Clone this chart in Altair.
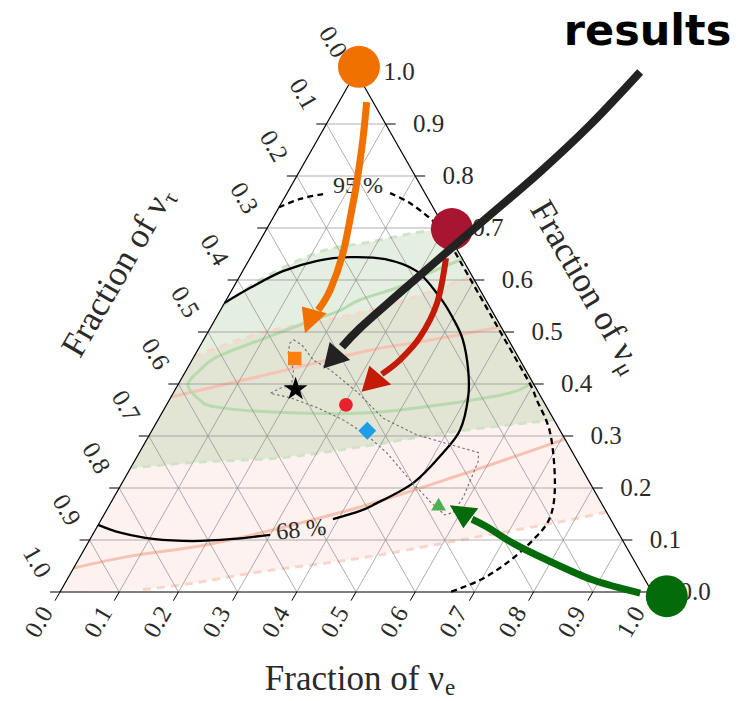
import altair as alt
import pandas as pd

# Plot area in px: the triangle's base spans W, its height spans H.
W, H = 592, 520

# ---------------------------------------------------------------- axes
TICK_VALUES = [0.0, 0.1, 0.2, 0.3, 0.4, 0.5, 0.6, 0.7, 0.8, 0.9, 1.0]
TICK_TEXT = ["0.0", "0.1", "0.2", "0.3", "0.4", "0.5", "0.6", "0.7", "0.8", "0.9", "1.0"]

# ------------------------------------------- flavour ratios at Earth
# every point is (fraction of nu_e, fraction of nu_mu); nu_tau = 1 - both
EARTH_NAMES = ["muon_damped", "best_fit", "pion_decay", "mixed", "neutron_decay"]
EARTH_NUE = [0.172, 0.203, 0.303, 0.364, 0.555]
EARTH_NUMU = [0.449, 0.390, 0.360, 0.310, 0.169]

# source compositions
SOURCE_NAMES = ["muon_damped", "pion_decay", "neutron_decay"]
SOURCE_NUE = [0.0, 0.313, 1.029]
SOURCE_NUMU = [1.01, 0.698, -0.008]

# ------------------------------------------------- fit contours (black)
FIT68_A = [(0.0, 0.129), (0.045, 0.114), (0.106, 0.102), (0.176, 0.098),
           (0.241, 0.102), (0.300, 0.110)]
FIT68_B = [(0.391, 0.140), (0.429, 0.156), (0.445, 0.167), (0.492, 0.210),
           (0.513, 0.267), (0.520, 0.312), (0.502, 0.375), (0.476, 0.427),
           (0.438, 0.485), (0.400, 0.527), (0.358, 0.567), (0.294, 0.617),
           (0.229, 0.640), (0.168, 0.644), (0.116, 0.637), (0.068, 0.617),
           (0.029, 0.585), (0.0, 0.556)]
FIT95_A = [(0.0, 0.740), (0.028, 0.756), (0.062, 0.765)]
FIT95_B = [(0.174, 0.767), (0.217, 0.748), (0.271, 0.715), (0.307, 0.687),
           (0.340, 0.654), (0.427, 0.567), (0.504, 0.490), (0.592, 0.402),
           (0.621, 0.369), (0.675, 0.306), (0.731, 0.210), (0.756, 0.144),
           (0.749, 0.100), (0.727, 0.056), (0.698, 0.023), (0.659, 0.0)]
CONTOUR_TEXT = ["68 %", "95 %"]
CONTOUR_NUE = [0.348, 0.113]
CONTOUR_NUMU = [0.119, 0.781]

# ------------------------------------- earlier analyses (green, red)
GREEN95 = [(0.0, 0.550), (0.038, 0.600), (0.086, 0.639), (0.126, 0.660),
           (0.187, 0.673), (0.247, 0.689), (0.300, 0.700), (0.669, 0.331),
           (0.510, 0.308), (0.367, 0.279), (0.243, 0.258), (0.112, 0.250),
           (0.0, 0.239)]
GREEN68 = [(0.360, 0.640), (0.318, 0.614), (0.281, 0.587), (0.226, 0.562),
           (0.199, 0.539), (0.149, 0.514), (0.096, 0.485), (0.039, 0.452),
           (0.023, 0.427), (0.017, 0.398), (0.052, 0.369), (0.084, 0.356),
           (0.187, 0.346), (0.340, 0.344), (0.462, 0.360), (0.569, 0.383),
           (0.596, 0.404)]
RED95 = [(0.0, 0.452), (0.089, 0.498), (0.239, 0.537), (0.323, 0.571),
         (0.392, 0.608), (0.846, 0.154), (0.777, 0.135), (0.626, 0.100),
         (0.474, 0.065), (0.319, 0.039), (0.216, 0.017), (0.133, 0.004),
         (0.0, 0.0)]
RED68_UPPER = [(0.0, 0.375), (0.130, 0.415), (0.291, 0.465), (0.368, 0.481),
               (0.490, 0.510)]
RED68_LOWER = [(0.0, 0.046), (0.084, 0.069), (0.192, 0.0885), (0.281, 0.1135),
               (0.425, 0.1635), (0.563, 0.225), (0.706, 0.294)]

# allowed region of flavour ratios (dotted outline)
ALLOWED = [(0.152, 0.485), (0.171, 0.475), (0.205, 0.446), (0.243, 0.427),
           (0.309, 0.385), (0.379, 0.334), (0.452, 0.302), (0.573, 0.268),
           (0.581, 0.251), (0.590, 0.183), (0.588, 0.153), (0.576, 0.148),
           (0.538, 0.174), (0.484, 0.215), (0.419, 0.267), (0.367, 0.302),
           (0.313, 0.331), (0.256, 0.355), (0.201, 0.374), (0.164, 0.382),
           (0.176, 0.392), (0.192, 0.398), (0.181, 0.427), (0.156, 0.459),
           (0.149, 0.478)]

# ------------------------------------------------ annotation arrows
ARROW_ORANGE = [(0.047, 0.942), (0.077, 0.869), (0.106, 0.792), (0.121, 0.748),
                (0.152, 0.652), (0.166, 0.581), (0.165, 0.542)]
HEAD_ORANGE = [(0.165, 0.4975), (0.134, 0.549), (0.1825, 0.536)]
ARROW_RED = [(0.331, 0.642), (0.359, 0.556), (0.363, 0.490), (0.351, 0.446),
             (0.334, 0.419)]
HEAD_RED = [(0.317, 0.385), (0.305, 0.435), (0.360, 0.399)]
ARROW_BLACK = [(0.480, 1.0), (0.4463, 0.898), (0.407, 0.8077), (0.3639, 0.725),
               (0.3207, 0.6423), (0.2822, 0.5673), (0.253, 0.5077), (0.2408, 0.4712)]
HEAD_BLACK = [(0.230, 0.430), (0.215, 0.481), (0.267, 0.446)]
ARROW_GREEN = [(0.981, -0.002), (0.889, 0.023), (0.792, 0.0615), (0.718, 0.094),
               (0.659, 0.125), (0.626, 0.140)]
HEAD_GREEN = [(0.575, 0.167), (0.620, 0.1225), (0.626, 0.161)]

# ------------------------------------------------------------ styles
SERIF = "Liberation Serif"
INK = "#2a2a2a"
EARTH_STYLE = {
    "muon_damped": dict(shape="square", color="#ff7f0e", size=180),
    "pion_decay": dict(shape="circle", color="#e8222a", size=190),
    "mixed": dict(shape="diamond", color="#1f9ee8", size=320),
    "neutron_decay": dict(shape="triangle-up", color="#4caf50", size=220),
    "best_fit": dict(shape="M0,-1L0.2245,-0.309L0.951,-0.309L0.363,0.118L0.588,0.809"
                           "L0,0.382L-0.588,0.809L-0.363,0.118L-0.951,-0.309L-0.2245,-0.309Z",
                     color="#000000", size=620),
}
SOURCE_COLOR = {"muon_damped": "#f07000", "pion_decay": "#a81530", "neutron_decay": "#046b0a"}

XS = alt.Scale(domain=[0, 1], nice=False, zero=False)
YS = alt.Scale(domain=[0, 1], nice=False, zero=False)
X = alt.X("x:Q", scale=XS, axis=None)
Y = alt.Y("y:Q", scale=YS, axis=None)


def ternary(nue, numu, **cols):
    df = pd.DataFrame({"nue": list(nue), "numu": list(numu), **cols})
    df["x"] = df["nue"] + df["numu"] / 2
    df["y"] = df["numu"]
    df["i"] = range(len(df))
    return df


def from_pairs(points):
    return ternary([p[0] for p in points], [p[1] for p in points])


def shift(df, dpx, dpy):
    """Move positions by a screen offset given in px."""
    df = df.copy()
    df["x"] = df["x"] + dpx / W
    df["y"] = df["y"] - dpy / H
    return df


def line(points, color, width, dash=None, opacity=1.0, interp="linear"):
    kw = dict(color=color, strokeWidth=width, opacity=opacity, strokeJoin="round",
              interpolate=interp)
    if dash:
        kw["strokeDash"] = dash
    return alt.Chart(from_pairs(points)).mark_line(**kw).encode(x=X, y=Y, order=alt.Order("i:Q"))


def polygon(points, fill, opacity):
    return alt.Chart(from_pairs(points)).mark_line(
        interpolate="linear-closed", fill=fill, fillOpacity=opacity,
        strokeOpacity=0, strokeWidth=0
    ).encode(x=X, y=Y, order=alt.Order("i:Q"))


SMOOTH = "cardinal"
layers = []

# ---- shaded regions of earlier analyses
layers.append(polygon(RED95, "#f08a7a", 0.11))
layers.append(polygon(GREEN95, "#6aa85a", 0.18))
layers.append(line(RED68_UPPER, "#f6c2b2", 3, interp=SMOOTH))
layers.append(line(RED68_LOWER, "#f6c2b2", 3, interp=SMOOTH))
layers.append(line(RED95[:5], "#f9d6ca", 3, dash=[8, 6], interp=SMOOTH))
layers.append(line(RED95[5:12], "#f9d6ca", 3, dash=[8, 6], interp=SMOOTH))
layers.append(line(GREEN68, "#b9d9ae", 3, interp=SMOOTH))
layers.append(line(GREEN95[:7], "#cfe3c8", 3, dash=[8, 6], interp=SMOOTH))
layers.append(line(GREEN95[7:], "#cfe3c8", 3, dash=[8, 6], interp=SMOOTH))

# ---- grid: constant nu_mu, constant nu_e, constant nu_tau
grid_rows = []
for v in TICK_VALUES[1:-1]:
    grid_rows.append(dict(x=v / 2, y=v, x2=1 - v / 2, y2=v))
    grid_rows.append(dict(x=v, y=0.0, x2=v + (1 - v) / 2, y2=1 - v))
    grid_rows.append(dict(x=(1 - v) / 2, y=1 - v, x2=1 - v, y2=0.0))
grid = pd.DataFrame(grid_rows)
layers.append(alt.Chart(grid).mark_rule(color="#8c8c8c", strokeWidth=0.7).encode(
    x=X, y=Y, x2="x2:Q", y2="y2:Q"))

# ---- triangle outline
layers.append(line([(0, 0), (1, 0), (0, 1)], "#000000", 1.2, interp="linear-closed"))

# ---- ticks
TL = 10  # tick length in px
bottom = ternary(TICK_VALUES, [0.0] * 11, label=TICK_TEXT)
right = ternary([1 - v for v in TICK_VALUES], TICK_VALUES, label=TICK_TEXT)
left = ternary([0.0] * 11, [1 - v for v in TICK_VALUES], label=TICK_TEXT)
tick_rows = []
for df, (dx, dy) in [(bottom, (-TL / 2, TL * 0.866)), (right, (TL, 0)), (left, (-TL, 0))]:
    for _, r in df.iterrows():
        tick_rows.append(dict(x=r.x, y=r.y, x2=r.x + dx / W, y2=r.y - dy / H))
layers.append(alt.Chart(pd.DataFrame(tick_rows)).mark_rule(color="#000000", strokeWidth=1).encode(
    x=X, y=Y, x2="x2:Q", y2="y2:Q"))

# ---- tick labels
for df, (dx, dy), ang in [(bottom, (-21, 30), 300), (right, (43, 0), 0), (left, (-23, -30), 60)]:
    layers.append(alt.Chart(shift(df, dx, dy)).mark_text(
        font=SERIF, fontSize=25, angle=ang, align="center", baseline="middle", color=INK
    ).encode(x=X, y=Y, text="label:N"))

# ---- axis titles: main text ends at the anchor, subscript starts there
TITLES = [("Fraction of ν", "e", 0.6486, -0.1885, 0),
          ("Fraction of ν", "τ", 0.1850, 0.7460, 300),
          ("Fraction of ν", "μ", 0.9440, 0.4380, 60)]
for main, sub, ax, ay, ang in TITLES:
    df = pd.DataFrame({"x": [ax], "y": [ay], "main": [main], "sub": [sub]})
    layers.append(alt.Chart(df).mark_text(
        font=SERIF, fontSize=35, angle=ang, align="right", baseline="alphabetic", color=INK
    ).encode(x=X, y=Y, text="main:N"))
    layers.append(alt.Chart(df).mark_text(
        font=SERIF, fontSize=23, angle=ang, align="left", baseline="alphabetic",
        dx=1, dy=5, color=INK
    ).encode(x=X, y=Y, text="sub:N"))

# ---- fit contours
layers.append(line(FIT68_A, "#000000", 2.3, interp=SMOOTH))
layers.append(line(FIT68_B, "#000000", 2.3, interp=SMOOTH))
layers.append(line(FIT95_A, "#000000", 2.3, dash=[6, 4], interp=SMOOTH))
layers.append(line(FIT95_B, "#000000", 2.3, dash=[6, 4], interp=SMOOTH))
clab = ternary(CONTOUR_NUE, CONTOUR_NUMU, label=CONTOUR_TEXT)
layers.append(alt.Chart(clab.iloc[[0]]).mark_text(
    font=SERIF, fontSize=24, angle=354, align="center", baseline="middle", color=INK
).encode(x=X, y=Y, text="label:N"))
layers.append(alt.Chart(clab.iloc[[1]]).mark_text(
    font=SERIF, fontSize=24, align="center", baseline="middle", color=INK
).encode(x=X, y=Y, text="label:N"))

# ---- allowed region
layers.append(line(ALLOWED, "#6e6e6e", 1.1, dash=[2.5, 2.5], interp="linear-closed"))

# ---- flavour ratios at Earth
earth = ternary(EARTH_NUE, EARTH_NUMU, name=EARTH_NAMES)
for name in EARTH_NAMES:
    st = EARTH_STYLE[name]
    layers.append(alt.Chart(earth[earth.name == name]).mark_point(
        shape=st["shape"], size=st["size"], color=st["color"], filled=True, opacity=1
    ).encode(x=X, y=Y))

# ---- source compositions
src = ternary(SOURCE_NUE, SOURCE_NUMU, name=SOURCE_NAMES)
for name in SOURCE_NAMES:
    layers.append(alt.Chart(src[src.name == name]).mark_circle(
        size=1760, color=SOURCE_COLOR[name], opacity=1
    ).encode(x=X, y=Y))

# ---- arrows
for shaft, head, color, width in [
    (ARROW_ORANGE, HEAD_ORANGE, "#f07000", 7),
    (ARROW_RED, HEAD_RED, "#c41a08", 6),
    (ARROW_GREEN, HEAD_GREEN, "#046b0a", 7),
    (ARROW_BLACK, HEAD_BLACK, "#222222", 8),
]:
    layers.append(line(shaft, color, width, interp=SMOOTH))
    layers.append(polygon(head, color, 1.0))

# ---- callout
res = pd.DataFrame({"x": [0.9924], "y": [1.0519], "t": ["results"]})
layers.append(alt.Chart(res).mark_text(
    font="DejaVu Sans", fontSize=43, fontWeight="bold", align="center", baseline="alphabetic",
    color="#000000"
).encode(x=X, y=Y, text="t:N"))

chart = alt.layer(*layers).properties(
    width=W, height=H,
    padding={"left": 60, "top": 72, "right": 95, "bottom": 109},
    autosize=alt.AutoSizeParams(type="none"),
    background="white",
).configure_view(stroke=None)

chart.save("out.html", embed_options={"renderer": "svg", "actions": False})
